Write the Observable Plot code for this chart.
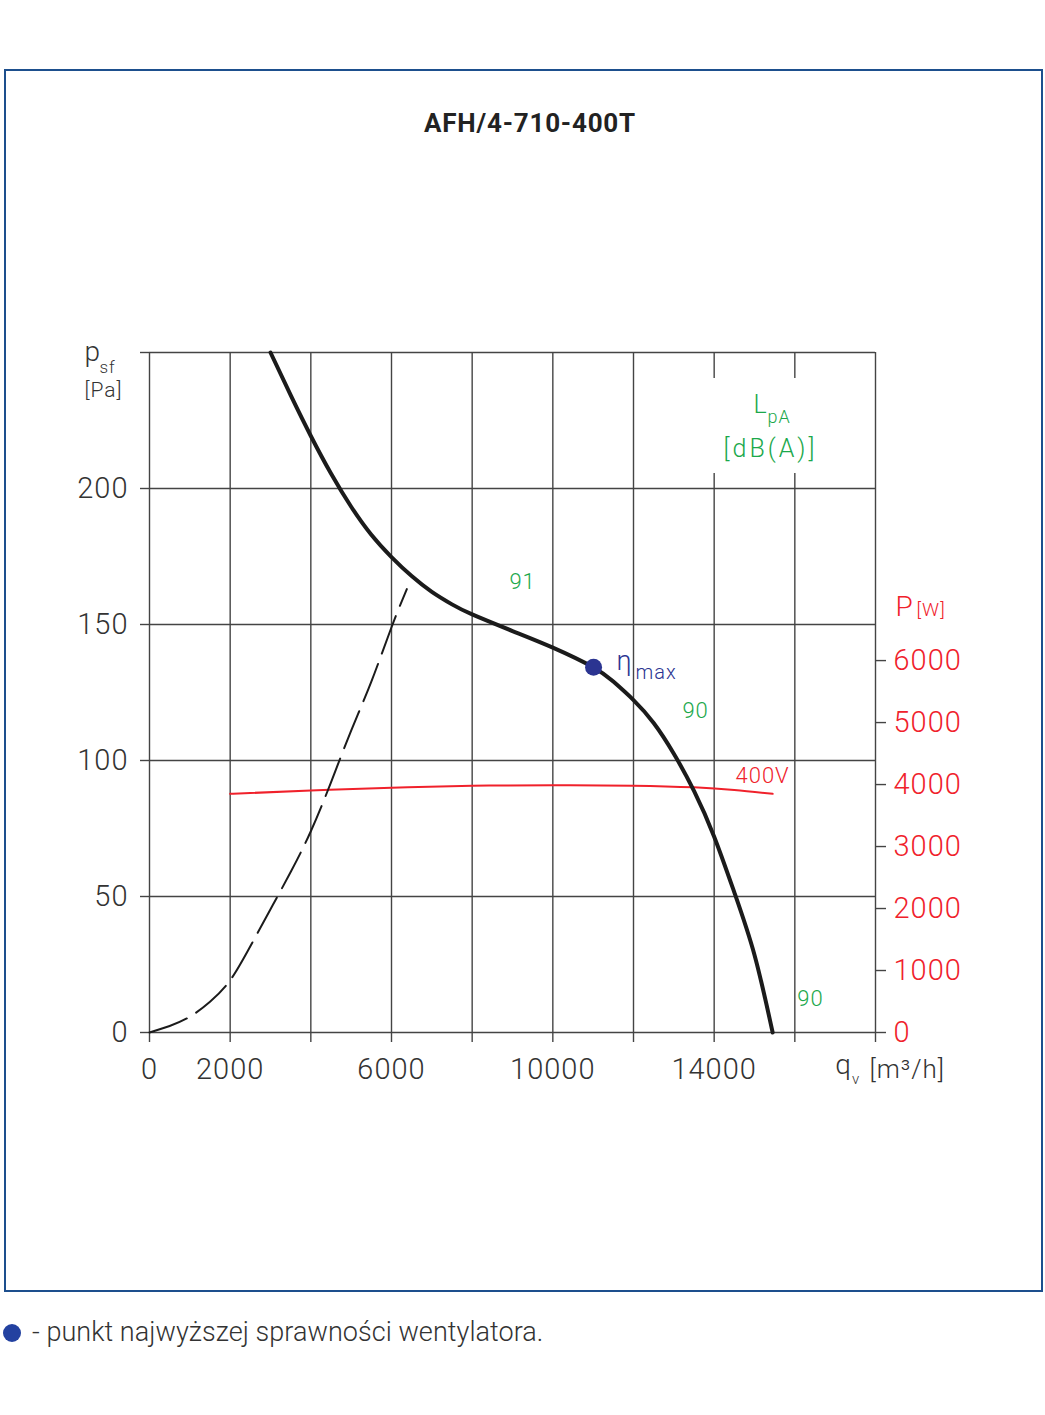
<!DOCTYPE html>
<html>
<head>
<meta charset="utf-8">
<script src="https://cdn.jsdelivr.net/npm/d3@7"></script>
<script src="https://cdn.jsdelivr.net/npm/@observablehq/plot@0.6"></script>
<style>
  html, body { margin:0; padding:0; background:#fff; }
  body { width:1045px; height:1415px; position:relative; overflow:hidden; font-family:Roboto, "Noto Sans", sans-serif; }
  #frame { position:absolute; left:4px; top:69px; width:1035px; height:1219px; border:2px solid #1d4f8d; }
  #title { position:absolute; left:0; width:1060px; top:108px; text-align:center; font-size:26px; font-weight:700; color:#222; letter-spacing:0.8px; }
  #chart { position:absolute; left:0; top:300px; }
  #chart svg text { letter-spacing:1px; }
  #legend { position:absolute; left:3px; top:1316px; font-size:27px; font-weight:300; color:#333; white-space:nowrap; letter-spacing:0.05px; }
  #legend .dot { display:inline-block; width:18px; height:18px; border-radius:50%; background:#2341a0; vertical-align:-1px; margin-right:11px; }
</style>
</head>
<body>
<div id="frame"></div>
<div id="title">AFH/4-710-400T</div>
<div id="chart"></div>
<div id="legend"><span class="dot"></span>- punkt najwyższej sprawności wentylatora.</div>
<script>
// ---- data ----
const fanQ = [3000, 3500, 4000, 4500, 5000, 5500, 6000, 6500, 7000, 7500, 8000, 9000, 10000, 11000, 11500, 12000, 12500, 13000, 13500, 14000, 14500, 15000, 15450];
const fanP = [250, 234.3, 219.3, 205.5, 193.3, 183, 174.8, 167.8, 162, 157.4, 153.7, 147.6, 141.5, 134.3, 129, 122.2, 113.8, 102.5, 88.8, 72, 51.5, 28.5, 0];

const sysQ = [0, 500, 1000, 1500, 2000, 2500, 3000, 3500, 4000, 4500, 5000, 5500, 6000, 6380];
const sysP = [0, 2.4, 5.8, 11.3, 19.2, 31.7, 45.3, 59, 74, 92, 111, 129, 149, 163];

const powQ = [2000, 4000, 6000, 8000, 10000, 12000, 13500, 14500, 15450];
const powW = [3850, 3903, 3947, 3979, 3989, 3982, 3955, 3912, 3850];
const powerMax = 10970;           // W at the top of the right axis (= 250 Pa)

const etaQ = 11010, etaP = 134.3;

const xTicks = [0, 2000, 4000, 6000, 8000, 10000, 12000, 14000, 16000, 18000];
const xTickLabels = [0, 2000, 6000, 10000, 14000];
const yTicks = [0, 50, 100, 150, 200, 250];
const yTickLabels = [0, 50, 100, 150, 200];
const wTicks = [0, 1000, 2000, 3000, 4000, 5000, 6000];

// noise level labels LpA [dB(A)]
const noiseLabels = [
  {q: 9250, p: 162.9, t: "91"},
  {q: 13540, p: 115.8, t: "90"},
  {q: 16390, p: 9.9, t: "90"}
];

// ---- derived tables ----
const k = 250 / powerMax;
const fan = fanQ.map((q, i) => ({q, p: fanP[i]}));
const sys = sysQ.map((q, i) => ({q, p: sysP[i]}));
const pow = powQ.map((q, i) => ({q, p: powW[i] * k}));

// vertical grid segments (gap behind the LpA label)
const gridSegs = [];
for (const q of xTicks) {
  if (q === 14000 || q === 16000) {
    gridSegs.push({q, y1: 0, y2: 205.5});
    gridSegs.push({q, y1: 240.4, y2: 250});
  } else gridSegs.push({q, y1: 0, y2: 250});
}

const GREEN = "#1ba84b", RED = "#f0212b", BLUE = "#2b3491", INK = "#1b1b1b", GRID = "#444";
const FONT = "Roboto, 'Noto Sans', sans-serif";

const txt = (data, o) => Plot.text(data, {lineAnchor: "bottom", fontWeight: 300, ...o});

const chart = Plot.plot({
  width: 1045, height: 850,
  marginLeft: 149, marginRight: 170, marginTop: 52, marginBottom: 118,
  x: {domain: [0, 18000], label: null},
  y: {domain: [0, 250], label: null},
  style: {fontFamily: FONT, background: "transparent", overflow: "visible", color: "#333"},
  marks: [
    Plot.gridY(yTicks, {stroke: GRID, strokeOpacity: 1, strokeWidth: 1.4}),
    Plot.ruleX(gridSegs, {x: "q", y1: "y1", y2: "y2", stroke: GRID, strokeWidth: 1.4}),
    Plot.axisX(xTicks, {tickSize: 10, tickFormat: () => "", stroke: GRID, strokeWidth: 1.4, label: null}),
    Plot.axisX(xTickLabels, {tickSize: 0, tickPadding: 26, fontSize: 29, fontWeight: 300, fill: "#333", tickFormat: d => String(d), label: null}),
    Plot.axisY(yTicks, {tickSize: 9, tickFormat: () => "", stroke: GRID, strokeWidth: 1.4, label: null}),
    Plot.axisY(yTickLabels, {tickSize: 0, tickPadding: 21, fontSize: 29, fontWeight: 300, fill: "#333", tickFormat: d => String(d), label: null}),
    Plot.axisY(wTicks.map(w => w * k), {anchor: "right", tickSize: 10, tickFormat: () => "", stroke: GRID, strokeWidth: 1.4, label: null}),
    Plot.axisY(wTicks.map(w => w * k), {anchor: "right", tickSize: 0, tickPadding: 18, fontSize: 29, fontWeight: 300, fill: RED, tickFormat: d => String(Math.round(d / k / 10) * 10), label: null}),

    Plot.line(pow, {x: "q", y: "p", curve: "natural", stroke: RED, strokeWidth: 2}),
    Plot.line(sys, {x: "q", y: "p", curve: "natural", stroke: INK, strokeWidth: 2, strokeDasharray: "40,11"}),
    Plot.line(fan, {x: "q", y: "p", curve: "natural", stroke: INK, strokeWidth: 4}),
    Plot.dot([{q: etaQ, p: etaP}], {x: "q", y: "p", r: 8.5, fill: BLUE}),

    txt(noiseLabels, {x: "q", y: "p", text: "t", fill: GREEN, fontSize: 22}),
    txt([{q: 15200, p: 91.9}], {x: "q", y: "p", text: () => "400V", fill: RED, fontSize: 22}),
    txt([{q: 11580, p: 133.1}], {x: "q", y: "p", text: () => "η", fill: BLUE, fontSize: 27, textAnchor: "start"}),
    txt([{q: 12050, p: 130.1}], {x: "q", y: "p", text: () => "max", fill: BLUE, fontSize: 20, textAnchor: "start"}),

    txt([{q: 14975, p: 227.6}], {x: "q", y: "p", text: () => "L", fill: GREEN, fontSize: 25, textAnchor: "start"}),
    txt([{q: 15322, p: 223.9}], {x: "q", y: "p", text: () => "pA", fill: GREEN, fontSize: 18, textAnchor: "start"}),
    txt([{q: 15397, p: 211.4}], {x: "q", y: "p", text: () => "[dB(A)]", fill: GREEN, fontSize: 25}),

    txt([{q: 18496, p: 153.3}], {x: "q", y: "p", text: () => "P", fill: RED, fontSize: 28, textAnchor: "start"}),
    txt([{q: 19017, p: 153.3}], {x: "q", y: "p", text: () => "[W]", fill: RED, fontSize: 19, textAnchor: "start"}),

    txt([{q: 17000, p: -15.4}], {x: "q", y: "p", text: () => "q", fill: "#333", fontSize: 28, textAnchor: "start"}),
    txt([{q: 17420, p: -18.75}], {x: "q", y: "p", text: () => "v", fill: "#333", fontSize: 15, textAnchor: "start"}),
    txt([{q: 17851, p: -16.9}], {x: "q", y: "p", text: () => "[m³/h]", fill: "#333", fontSize: 26, textAnchor: "start"}),

    txt([{q: -1610, p: 246.7}], {x: "q", y: "p", text: () => "p", fill: "#333", fontSize: 28, textAnchor: "start"}),
    txt([{q: -1240, p: 242.3}], {x: "q", y: "p", text: () => "sf", fill: "#333", fontSize: 17, textAnchor: "start"}),
    txt([{q: -1612, p: 233.5}], {x: "q", y: "p", text: () => "[Pa]", fill: "#333", fontSize: 21, textAnchor: "start"})
  ]
});

d3.select(chart).selectAll("text").filter(function() { return this.textContent === "[dB(A)]"; }).attr("letter-spacing", "3px").style("letter-spacing", "3px");
document.getElementById("chart").appendChild(chart);
</script>
</body>
</html>
